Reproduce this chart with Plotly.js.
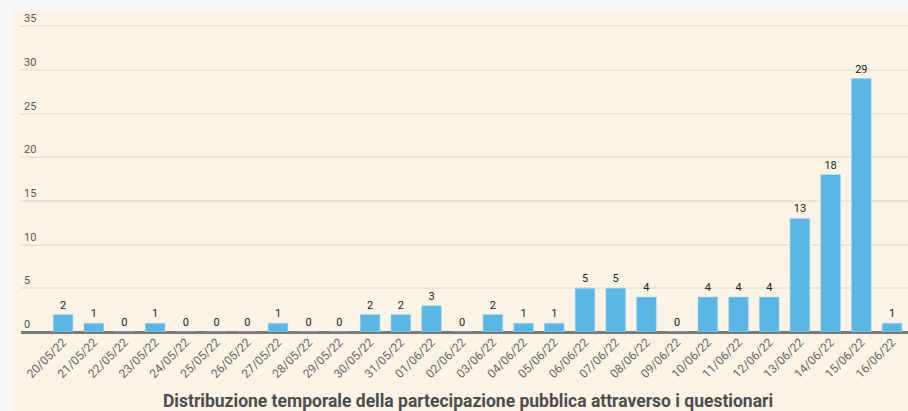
<!DOCTYPE html>
<html>
<head>
<meta charset="utf-8">
<script src="https://cdn.plot.ly/plotly-3.0.1.min.js"></script>
<style>
html,body{margin:0;padding:0;background:#f7f7f7;}
#chart{width:908px;height:411px;}
</style>
</head>
<body>
<div id="chart"></div>
<script>
const dates = ["20/05/22","21/05/22","22/05/22","23/05/22","24/05/22","25/05/22","26/05/22","27/05/22","28/05/22","29/05/22","30/05/22","31/05/22","01/06/22","02/06/22","03/06/22","04/06/22","05/06/22","06/06/22","07/06/22","08/06/22","09/06/22","10/06/22","11/06/22","12/06/22","13/06/22","14/06/22","15/06/22","16/06/22"];
const counts = [2,1,0,1,0,0,0,1,0,0,2,2,3,0,2,1,1,5,5,4,0,4,4,4,13,18,29,1];
const yTicks = [0,5,10,15,20,25,30,35];
const chartTitle = "Distribuzione temporale della partecipazione pubblica attraverso i questionari";

const trace = {
  type: 'bar',
  x: dates,
  y: counts,
  text: counts.map(String),
  textposition: 'outside',
  cliponaxis: false,
  textfont: {family: 'Roboto, sans-serif', size: 11, color: '#222'},
  marker: {color: '#5cb6e5', line: {color: '#9fd2ee', width: 0.5}},
  hoverinfo: 'skip'
};

const layout = {
  width: 908, height: 411,
  margin: {l: 21, r: 0, t: 4, b: 79, pad: 0},
  paper_bgcolor: '#f7f7f7',
  plot_bgcolor: 'rgba(0,0,0,0)',
  showlegend: false,
  bargap: 0.36,
  font: {family: 'Roboto, sans-serif'},
  annotations: [{
    text: '<b>' + chartTitle + '</b>',
    xref: 'paper', yref: 'paper',
    x: (468 - 21) / 887, xanchor: 'center',
    y: -(412.5 - 332) / 328, yanchor: 'bottom',
    showarrow: false,
    font: {family: 'Roboto, sans-serif', size: 17.5, color: '#4d4d4d'}
  }],
  xaxis: {
    type: 'category',
    range: [-1.37, 27.52],
    tickangle: -45,
    tickfont: {family: 'Roboto, sans-serif', size: 12, color: '#666'},
    showgrid: false,
    showline: false,
    ticks: '',
    fixedrange: true
  },
  yaxis: {
    range: [0, 37.53],
    tickvals: yTicks,
    ticktext: yTicks.map(String),
    ticklabelposition: 'inside top',
    tickfont: {family: 'Roboto, sans-serif', size: 11, color: '#555'},
    showgrid: true,
    gridcolor: '#ece5d6',
    gridwidth: 2,
    zeroline: true,
    zerolinecolor: '#7a7a7a',
    zerolinewidth: 3,
    showline: false,
    ticks: '',
    fixedrange: true
  },
  shapes: [{
    type: 'rect', xref: 'paper', yref: 'paper', layer: 'below',
    x0: -0.0101, x1: 1.01, y0: -0.25, y1: 1 - 7/328,
    fillcolor: '#fbf3e5', line: {width: 0}
  }]
};

Plotly.newPlot('chart', [trace], layout, {displayModeBar: false, staticPlot: true});
</script>
</body>
</html>
